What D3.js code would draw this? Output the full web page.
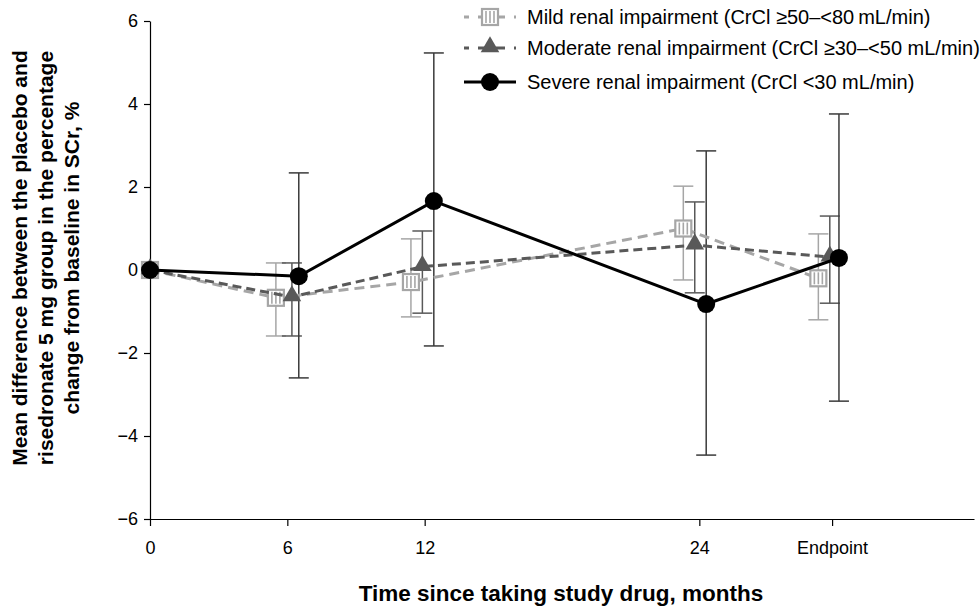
<!DOCTYPE html>
<html>
<head>
<meta charset="utf-8">
<script src="https://cdn.jsdelivr.net/npm/d3@7"></script>
<style>
  body { margin: 0; background: #fff; }
  text { font-family: "Liberation Sans", Arial, sans-serif; }
</style>
</head>
<body>
<script>
// tick positions on the time axis (months), endpoint drawn after 24
let tickMonths = [0, 6, 12, 24, 29.8];
let tickLabels = ["0", "6", "12", "24", "Endpoint"];
let yTicks = [-6, -4, -2, 0, 2, 4, 6];

// each series is shifted a little sideways so bars do not overlap
let mildX = [0, 5.5, 11.4, 23.3, 29.2];
let mildY = [0, -0.67, -0.29, 1.0, -0.2];
let mildLo = [0, -1.59, -1.13, -0.24, -1.2];
let mildHi = [0, 0.17, 0.75, 2.02, 0.87];

let modX = [0, 6.2, 11.9, 23.8, 29.7];
let modY = [0, -0.65, 0.08, 0.6, 0.31];
let modLo = [0, -1.59, -1.04, -0.55, -0.8];
let modHi = [0, 0.17, 0.94, 1.64, 1.3];

let sevX = [0, 6.5, 12.4, 24.3, 30.1];
let sevY = [0, -0.15, 1.66, -0.82, 0.29];
let sevLo = [0, -2.6, -1.83, -4.46, -3.16];
let sevHi = [0, 2.34, 5.23, 2.87, 3.76];

let legendLabels = [
  "Mild renal impairment (CrCl \u226550\u2013<80\u2009mL/min)",
  "Moderate renal impairment (CrCl \u226530\u2013<50 mL/min)",
  "Severe renal impairment (CrCl <30 mL/min)"
];

const width = 980;
const height = 610;

const svg = d3.select("body")
  .append("svg")
  .attr("width", width)
  .attr("height", height);

const x = d3.scaleLinear().domain([0, 36]).range([150, 974]);
const y = d3.scaleLinear().domain([-6, 6]).range([519, 21]);

// y axis
const yAxis = svg.append("g")
  .attr("transform", "translate(150,0)")
  .call(d3.axisLeft(y).tickValues(yTicks).tickSize(6).tickSizeOuter(0)
    .tickFormat(d => d < 0 ? "\u2212" + Math.abs(d) : d));
yAxis.select(".domain").attr("stroke", "#000").attr("stroke-width", 1.2);
yAxis.selectAll(".tick line").attr("stroke", "#000").attr("stroke-width", 1.2);
yAxis.selectAll(".tick text")
  .attr("font-size", 18)
  .attr("fill", "#000")
  .attr("x", -12);

// x axis
const xAxis = svg.append("g")
  .attr("transform", "translate(0," + y(-6) + ")")
  .call(d3.axisBottom(x).tickValues(tickMonths).tickSize(7).tickSizeOuter(0)
    .tickFormat((d, i) => tickLabels[i]));
xAxis.select(".domain").attr("stroke", "#000").attr("stroke-width", 1.2);
xAxis.selectAll(".tick line").attr("stroke", "#000").attr("stroke-width", 1.2);
xAxis.selectAll(".tick text")
  .attr("font-size", 18)
  .attr("fill", "#000")
  .attr("y", 22);

// axis titles
svg.append("text")
  .attr("x", 561)
  .attr("y", 601)
  .attr("text-anchor", "middle")
  .attr("font-size", 22.5)
  .attr("font-weight", "bold")
  .text("Time since taking study drug, months");

const yTitle = ["Mean difference between the placebo and",
  "risedronate 5 mg group in the percentage",
  "change from baseline in SCr, %"];
svg.append("g")
  .attr("transform", "translate(0,258) rotate(-90)")
  .selectAll("text")
  .data(yTitle)
  .enter()
  .append("text")
  .attr("x", 0)
  .attr("y", (d, i) => 27 + i * 26)
  .attr("text-anchor", "middle")
  .attr("font-size", 21)
  .attr("font-weight", "bold")
  .text(d => d);

let series = [
  { xs: mildX, ys: mildY, lo: mildLo, hi: mildHi, color: "#a6a6a6", bar: "#a6a6a6", dash: "10,6", marker: "square" },
  { xs: modX, ys: modY, lo: modLo, hi: modHi, color: "#595959", bar: "#595959", dash: "9,5", marker: "triangle" },
  { xs: sevX, ys: sevY, lo: sevLo, hi: sevHi, color: "#000", bar: "#3a3a3a", dash: null, marker: "circle" }
];

const line = d3.line().x(d => x(d[0])).y(d => y(d[1]));

function drawMarker(g, type, cx, cy, color) {
  if (type == "square") {
    g.append("rect")
      .attr("x", cx - 8).attr("y", cy - 8)
      .attr("width", 16).attr("height", 16)
      .attr("fill", "#fff")
      .attr("stroke", color)
      .attr("stroke-width", 2.2);
    [-3, 1, 5].forEach(dx => {
      g.append("line")
        .attr("x1", cx + dx - 1).attr("x2", cx + dx - 1)
        .attr("y1", cy - 6).attr("y2", cy + 6)
        .attr("stroke", color)
        .attr("stroke-width", 1.6);
    });
  } else if (type == "triangle") {
    g.append("path")
      .attr("d", d3.symbol().type(d3.symbolTriangle).size(150)())
      .attr("transform", "translate(" + cx + "," + (cy - 1) + ")")
      .attr("fill", color);
  } else {
    g.append("circle")
      .attr("cx", cx).attr("cy", cy).attr("r", 9)
      .attr("fill", color);
  }
}

// error bars
series.forEach(s => {
  const g = svg.append("g");
  s.xs.forEach((m, i) => {
    if (s.lo[i] == s.hi[i]) return;
    const px = x(m);
    g.append("line")
      .attr("x1", px).attr("x2", px)
      .attr("y1", y(s.lo[i])).attr("y2", y(s.hi[i]))
      .attr("stroke", s.bar).attr("stroke-width", 1.5);
    [s.lo[i], s.hi[i]].forEach(v => {
      g.append("line")
        .attr("x1", px - 10).attr("x2", px + 10)
        .attr("y1", y(v)).attr("y2", y(v))
        .attr("stroke", s.bar).attr("stroke-width", 1.5);
    });
  });
});

// lines and markers
series.forEach(s => {
  const pts = s.xs.map((m, i) => [m, s.ys[i]]);
  svg.append("path")
    .attr("d", line(pts))
    .attr("fill", "none")
    .attr("stroke", s.color)
    .attr("stroke-width", 3)
    .attr("stroke-dasharray", s.dash);
  const g = svg.append("g");
  pts.forEach(p => drawMarker(g, s.marker, x(p[0]), y(p[1]), s.color));
});

// legend
const legend = svg.append("g");
const legendY = [17, 48, 82];
series.forEach((s, i) => {
  legend.append("line")
    .attr("x1", 464).attr("x2", 516)
    .attr("y1", legendY[i]).attr("y2", legendY[i])
    .attr("stroke", s.color)
    .attr("stroke-width", 3)
    .attr("stroke-dasharray", s.dash ? "9,9" : null)
    .attr("stroke-dashoffset", s.dash ? 4 : null);
  drawMarker(legend, s.marker, 490, legendY[i], s.color);
  legend.append("text")
    .attr("x", 527)
    .attr("y", legendY[i] + 7)
    .attr("font-size", 20)
    .text(legendLabels[i]);
});
</script>
</body>
</html>
